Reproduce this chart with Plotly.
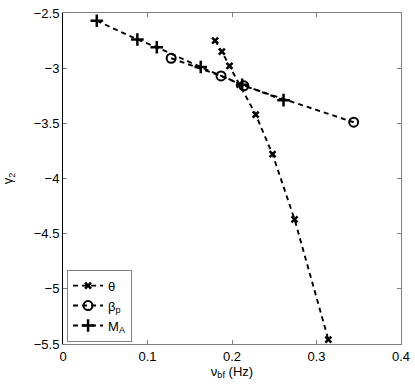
import plotly.graph_objects as go

theta_x = [0.180, 0.188, 0.197, 0.209, 0.228, 0.248, 0.274, 0.314]
theta_y = [-2.75, -2.85, -2.98, -3.15, -3.42, -3.78, -4.37, -5.46]

beta_x = [0.128, 0.187, 0.214, 0.344]
beta_y = [-2.91, -3.07, -3.16, -3.49]

ma_x = [0.040, 0.088, 0.111, 0.163, 0.212, 0.261]
ma_y = [-2.57, -2.74, -2.81, -2.99, -3.15, -3.29]

x_ticks = [0, 0.1, 0.2, 0.3, 0.4]
x_ticklabels = ["0", "0.1", "0.2", "0.3", "0.4"]
y_ticks = [-2.5, -3, -3.5, -4, -4.5, -5, -5.5]
y_ticklabels = ["\u22122.5", "\u22123", "\u22123.5", "\u22124", "\u22124.5", "\u22125", "\u22125.5"]

FONT = "Liberation Sans, Arial, sans-serif"
GREY = "#808080"
LINE = dict(color="black", width=1.9, dash="5px,4px")

fig = go.Figure()
fig.add_trace(go.Scatter(
    x=theta_x, y=theta_y, mode="lines+markers", name="\u03b8", line=LINE,
    marker=dict(symbol="x-thin", size=6, line=dict(color="black", width=2.5)),
))
fig.add_trace(go.Scatter(
    x=beta_x, y=beta_y, mode="lines+markers", name="\u03b2<sub>p</sub>", line=LINE,
    marker=dict(symbol="circle-open", size=9, color="black", line=dict(color="black", width=2)),
))
fig.add_trace(go.Scatter(
    x=ma_x, y=ma_y, mode="lines+markers", name="M<sub>A</sub>", line=LINE,
    marker=dict(symbol="cross-thin", size=9, line=dict(color="black", width=2.5)),
))
# invisible trace to create right y-axis
fig.add_trace(go.Scatter(x=[0], y=[-3], yaxis="y2", mode="markers",
                         marker=dict(opacity=0), showlegend=False, hoverinfo="skip"))

fig.update_layout(
    width=415, height=385,
    margin=dict(l=63, r=14, t=13, b=41, autoexpand=False),
    paper_bgcolor="white", plot_bgcolor="white",
    font=dict(family=FONT, size=11, color="black"),
    showlegend=True,
    legend=dict(
        x=0.012, y=0.007, xanchor="left", yanchor="bottom",
        bordercolor=GREY, borderwidth=1, bgcolor="white",
        font=dict(family=FONT, size=13, color="black"),
        itemwidth=30, tracegroupgap=0,
    ),
    xaxis=dict(
        range=[0, 0.4], tickvals=x_ticks, ticktext=x_ticklabels, automargin=False,
        showgrid=False, zeroline=False, showline=True, linecolor=GREY, linewidth=1,
        mirror="ticks", ticks="inside", ticklen=4, tickcolor=GREY,
        tickfont=dict(family=FONT, size=13, color="black"),
        title=dict(text="\u03bd<sub>bf</sub> (Hz)", font=dict(family=FONT, size=13), standoff=0),
    ),
    yaxis=dict(
        range=[-5.5, -2.5], tickvals=y_ticks, ticktext=y_ticklabels, automargin=False,
        showgrid=False, zeroline=False, showline=True, linecolor="black", linewidth=1,
        ticks="inside", ticklen=4, tickcolor=GREY,
        tickfont=dict(family=FONT, size=13, color="black"),
        title=dict(text="\u03b3<sub>2</sub>", font=dict(family=FONT, size=13), standoff=18),
    ),
    yaxis2=dict(
        overlaying="y", side="right", matches="y", range=[-5.5, -2.5], automargin=False,
        tickvals=y_ticks, showticklabels=False, showgrid=False, zeroline=False,
        showline=True, linecolor=GREY, linewidth=1, ticks="inside", ticklen=4, tickcolor=GREY,
    ),
)

fig.write_html("out.html", config={"displayModeBar": False},
               post_script="document.body.style.margin='0';document.body.style.overflow='hidden';")
